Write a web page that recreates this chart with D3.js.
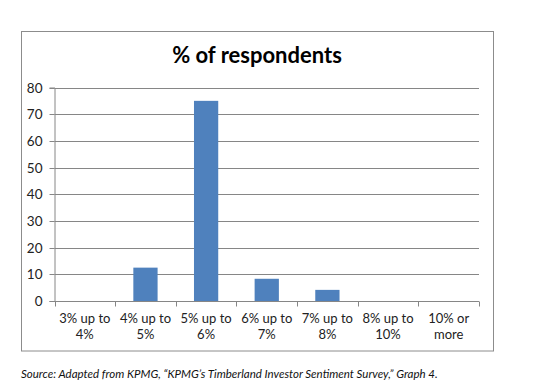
<!DOCTYPE html>
<html><head><meta charset="utf-8">
<script src="https://cdn.jsdelivr.net/npm/d3@7"></script>
<style>html,body{margin:0;padding:0;background:#fff;}svg{display:block;}</style>
</head><body>
<svg id="c" width="536" height="392"></svg>
<script>
const categories = [["3% up to","4%"],["4% up to","5%"],["5% up to","6%"],["6% up to","7%"],["7% up to","8%"],["8% up to","10%"],["10% or","more"]];
const values = [0, 12.5, 75, 8.33, 4.17, 0, 0];
const yTicks = [0,10,20,30,40,50,60,70,80];
const title = "% of respondents";
const source = "Source: Adapted from KPMG, \u201cKPMG\u2019s Timberland Investor Sentiment Survey,\u201d Graph 4.";

(function(){
const svg = d3.select("#c");
const font = "Lato, 'Open Sans', sans-serif";
svg.append("rect").attr("x",21.5).attr("y",31.5).attr("width",472).attr("height",319.5)
  .attr("fill","#fff").attr("stroke","#8c8c8c").attr("stroke-width",1);

const pL = 54.5, pR = 479, pT = 87.5, pB = 301;
const keys = categories.map((c,i)=>i);
const x = d3.scaleBand().domain(keys).range([pL,pR]).paddingInner(0.6).paddingOuter(0.3);
const xb = d3.scaleBand().domain(keys).range([pL,pR]);
const y = d3.scaleLinear().domain([0,80]).range([pB,pT]);

svg.append("g").selectAll("line").data(yTicks.filter(t=>t>0)).join("line")
  .attr("x1",pL).attr("x2",pR)
  .attr("y1",d=>Math.round(y(d))+0.5).attr("y2",d=>Math.round(y(d))+0.5)
  .attr("stroke","#868686").attr("stroke-width",1);

svg.append("g").selectAll("rect").data(values).join("rect")
  .attr("x",(d,i)=>x(i)).attr("width",x.bandwidth())
  .attr("y",d=>y(d)).attr("height",d=>pB-y(d))
  .attr("fill","#4f81bd");

const ya = d3.axisLeft(y).tickValues(yTicks).tickSize(5).tickPadding(7);
const gy = svg.append("g").attr("transform",`translate(${pL},0)`).call(ya);
gy.select(".domain").attr("stroke","#868686");
gy.selectAll(".tick line").attr("stroke","#868686");
gy.selectAll(".tick").attr("transform",d=>`translate(0,${Math.round(y(d))+0.5})`);
gy.selectAll("text").attr("font-family",font).attr("font-size",13.5).attr("fill","#222");

const gx = svg.append("g").attr("transform",`translate(0,${pB+0.5})`);
gx.append("line").attr("x1",pL).attr("x2",pR).attr("stroke","#868686");
gx.selectAll("line.t").data(d3.range(categories.length+1)).join("line").attr("class","t")
  .attr("x1",i=>Math.round(pL + i*xb.step())+0.5).attr("x2",i=>Math.round(pL + i*xb.step())+0.5)
  .attr("y1",0).attr("y2",5).attr("stroke","#868686");
const lbl = svg.append("g").selectAll("text").data(categories).join("text")
  .attr("x",(d,i)=>xb(i)+xb.bandwidth()/2).attr("y",323)
  .attr("text-anchor","middle").attr("font-family",font).attr("font-size",13).attr("fill","#222");
lbl.append("tspan").text(d=>d[0]);
lbl.append("tspan").attr("x",(d,i)=>xb(i)+xb.bandwidth()/2).attr("dy",16).text(d=>d[1]);

svg.append("text").attr("x",257).attr("y",63).attr("text-anchor","middle")
  .attr("font-family",font).attr("font-weight","bold").attr("font-size",22).attr("fill","#000").text(title);

svg.append("text").attr("x",21).attr("y",378).attr("font-family",font).attr("font-style","italic")
  .attr("font-size",11.5).attr("fill","#111").text(source);
})();
</script>
</body></html>
